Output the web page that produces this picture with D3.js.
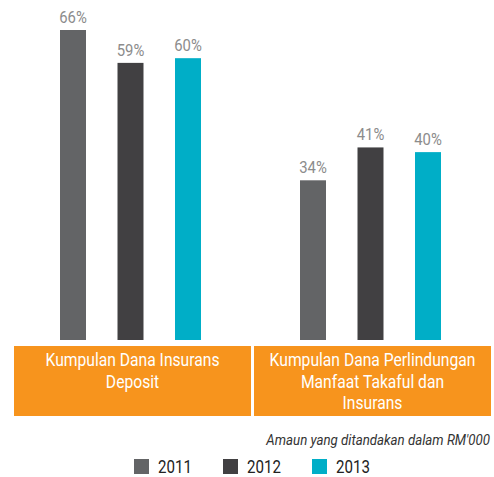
<!DOCTYPE html>
<html>
<head>
<meta charset="utf-8">
<script src="https://cdn.jsdelivr.net/npm/d3@7"></script>
<style>
  body { margin: 0; background: #fff; }
  svg { display: block; }
  text { font-family: "Roboto", "Liberation Sans", sans-serif; }
</style>
</head>
<body>
<div id="chart"></div>
<script>
// data
const categories = ["Kumpulan Dana Insurans Deposit", "Kumpulan Dana Perlindungan Manfaat Takaful dan Insurans"];
const categoryLines = [
    ["Kumpulan Dana Insurans", "Deposit"],
    ["Kumpulan Dana Perlindungan", "Manfaat Takaful dan", "Insurans"]
];
const years = ["2011", "2012", "2013"];
const values2011 = [66, 34];
const values2012 = [59, 41];
const values2013 = [60, 40];
const note = "Amaun yang ditandakan dalam RM'000";

const width = 494, height = 477;
const colors = ["#636466", "#414042", "#00aec7"];
const orange = "#f7941d";

let series = [values2011, values2012, values2013];
let data = categories.map(function (c, i) {
    return { cat: c, vals: years.map(function (y, j) { return { year: y, value: series[j][i] }; }) };
});

let svg = d3.select("#chart")
    .append("svg")
    .attr("width", width)
    .attr("height", height);

// text squeezed horizontally around its anchor point (condensed look)
function label(parent, x, y, sx) {
    return parent.append("g")
        .attr("transform", `translate(${x},${y}) scale(${sx},1)`)
        .append("text");
}

// outer scale for categories (also the orange boxes)
let x0 = d3.scaleBand()
    .domain(categories)
    .range([14, 491])
    .paddingInner(0.0125);
// inner scale for years
let x1 = d3.scaleBand()
    .domain(years)
    .range([46, 187])
    .paddingInner(0.548);
let y = d3.scaleLinear()
    .domain([0, 66])
    .range([340, 30]);
let color = d3.scaleOrdinal().domain(years).range(colors);

let groups = svg.append("g").selectAll("g").data(data).enter()
    .append("g")
    .attr("transform", d => `translate(${x0(d.cat)},0)`);

// Bars
groups.selectAll("rect").data(d => d.vals).enter()
    .append("rect")
    .attr("x", d => x1(d.year))
    .attr("y", d => y(d.value))
    .attr("width", x1.bandwidth())
    .attr("height", d => y(0) - y(d.value))
    .attr("fill", d => color(d.year));

// Orange category boxes
groups.append("rect")
    .attr("x", 0)
    .attr("y", 346)
    .attr("width", x0.bandwidth())
    .attr("height", 70)
    .attr("fill", orange);

groups.each(function (d, i) {
    let g = d3.select(this);
    // value labels
    d.vals.forEach(function (v) {
        label(g, x1(v.year) + x1.bandwidth() / 2, y(v.value) - 7, 0.9)
            .attr("text-anchor", "middle")
            .attr("font-size", 16.5)
            .attr("fill", "#8c8c8c")
            .text(v.value + "%");
    });
    // category text
    categoryLines[i].forEach(function (line, k) {
        label(g, x0.bandwidth() / 2, 366 + k * 21.5, 0.87)
            .attr("text-anchor", "middle")
            .attr("font-size", 18)
            .attr("fill", "#fff")
            .text(line);
    });
});

// Note
label(svg, 490, 445, 0.885)
    .attr("text-anchor", "end")
    .attr("font-size", 15)
    .attr("font-style", "italic")
    .attr("fill", "#333")
    .text(note);

// Legend
let legend = svg.append("g").selectAll("g").data(years).enter()
    .append("g")
    .attr("transform", (d, i) => `translate(${134 + i * 89},459)`);
legend.append("rect")
    .attr("width", 15)
    .attr("height", 15)
    .attr("fill", d => color(d));
legend.each(function (d) {
    label(d3.select(this), 24, 14, 0.84)
        .attr("font-size", 18)
        .attr("fill", "#222")
        .text(d);
});
</script>
</body>
</html>
